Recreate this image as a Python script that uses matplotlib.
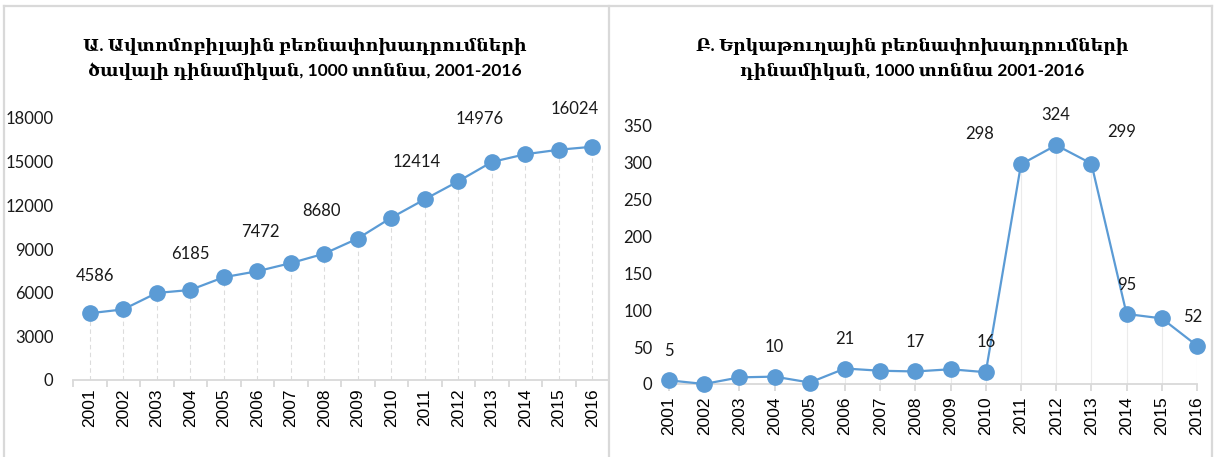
"""
Two-panel line chart: road and rail freight volumes, 2001-2016 (thousand tonnes).
"""

import matplotlib

matplotlib.use("Agg")
import matplotlib.pyplot as plt
from matplotlib.lines import Line2D

# --------------------------------------------------------------------------- #
# Data
# --------------------------------------------------------------------------- #
years = [str(y) for y in range(2001, 2017)]

road_freight = [4586, 4850, 5980, 6185, 7060, 7472, 8030, 8680,
                9720, 11150, 12414, 13650, 14976, 15510, 15820, 16024]
rail_freight = [5, 0, 9, 10, 2, 21, 18, 17, 20, 16, 298, 324, 299, 95, 89, 52]

# which points carry a value label, with (dx, dy) offsets in points
road_labels = {0: (4, 27), 3: (0, 26), 5: (2, 28), 7: (-2, 31),
               10: (-6, 27), 12: (-9, 31), 15: (-13, 27)}
rail_labels = {0: (0, 21), 3: (0, 21), 5: (0, 21), 7: (0, 21), 9: (0, 22),
               10: (-30, 22), 11: (0, 22), 12: (22, 23), 13: (0, 21), 15: (-3, 21)}

title_left = "Ա. Ավտոմոբիլային բեռնափոխադրումների\nծավալի դինամիկան, 1000 տոննա, 2001-2016"
title_right = "Բ. Երկաթուղային բեռնափոխադրումների\nդինամիկան, 1000 տոննա 2001-2016"

# --------------------------------------------------------------------------- #
# Style
# --------------------------------------------------------------------------- #
BLUE = "#5B9BD5"
GRID = "#D9D9D9"
NUM_FONT = ["Lato", "DejaVu Sans"]
TITLE_FONT = ["Lato", "DejaVu Serif"]
W, H = 1214, 457

fig = plt.figure(figsize=(W / 100, H / 100), dpi=100)


def px_axes(left, right, bottom, top):
    """Create axes from pixel edges (origin top-left)."""
    return fig.add_axes([left / W, 1 - bottom / H, (right - left) / W, (bottom - top) / H])


def draw_series(ax, values, labels, droplines_dashed):
    x = list(range(len(values)))
    ax.vlines(x, 0, values, colors="#DCDCDC" if droplines_dashed else "#EBEBEB",
              linewidth=0.8, linestyles=(0, (4, 3)) if droplines_dashed else "solid",
              zorder=1)
    ax.plot(x, values, color=BLUE, linewidth=1.6, marker="o", markersize=11,
            markeredgecolor=BLUE, clip_on=False, zorder=3)
    for i, (dx, dy) in labels.items():
        ax.annotate(f"{values[i]}", (i, values[i]), xytext=(dx, dy),
                    textcoords="offset points", ha="center", va="center",
                    fontsize=12, family=NUM_FONT, color="#1a1a1a", zorder=4)
    for side in ("top", "right", "left"):
        ax.spines[side].set_visible(False)
    ax.spines["bottom"].set_color(GRID)
    ax.spines["bottom"].set_linewidth(1.3)
    ax.tick_params(axis="y", length=0, labelsize=12, pad=14, labelcolor="#1a1a1a")
    ax.tick_params(axis="x", which="both", length=0, pad=6)


# --- Left panel: road freight ---
ax1 = px_axes(73, 609, 380, 118)
draw_series(ax1, road_freight, road_labels, droplines_dashed=True)
ax1.set_xlim(-0.5, len(years) - 0.5)
ax1.set_ylim(0, 18000)
ax1.set_yticks(range(0, 18001, 3000))
ax1.set_xticks(range(len(years)))
ax1.set_xticklabels(years, rotation=90, fontsize=12.5, family="Liberation Sans")
ax1.set_xticks([i + 0.5 for i in range(-1, len(years))], minor=True)
ax1.tick_params(axis="x", which="minor", length=5, width=1.3, color=GRID)
for lbl in ax1.get_yticklabels():
    lbl.set_family(NUM_FONT)

# --- Right panel: rail freight ---
ax2 = px_axes(669, 1197, 384, 126)
draw_series(ax2, rail_freight, rail_labels, droplines_dashed=False)
ax2.set_xlim(0, len(years) - 1)
ax2.set_ylim(0, 350)
ax2.set_yticks(range(0, 351, 50))
ax2.set_xticks(range(len(years)))
ax2.set_xticklabels(years, rotation=90, fontsize=12.5, family="Liberation Sans")
ax2.tick_params(axis="x", which="major", length=5, width=1.3, color=GRID, pad=4)
ax2.tick_params(axis="y", pad=12)
for lbl in ax2.get_yticklabels():
    lbl.set_family(NUM_FONT)

# --- Titles ---
fig.text(305 / W, 1 - 59 / H, title_left, ha="center", va="center", fontsize=12.5,
         fontweight="bold", family=TITLE_FONT, linespacing=1.55)
fig.text(912 / W, 1 - 59 / H, title_right, ha="center", va="center", fontsize=12.5,
         fontweight="bold", family=TITLE_FONT, linespacing=1.55)

# --- Panel borders ---
border = dict(color=GRID, linewidth=1.6, transform=fig.transFigure)
fig.add_artist(Line2D([4 / W, 1212 / W], [1 - 5.5 / H] * 2, **border))
for xp in (4, 608.5, 1212):
    fig.add_artist(Line2D([xp / W] * 2, [0, 1 - 5.5 / H], **border))

fig.savefig("out.png", dpi=100)
